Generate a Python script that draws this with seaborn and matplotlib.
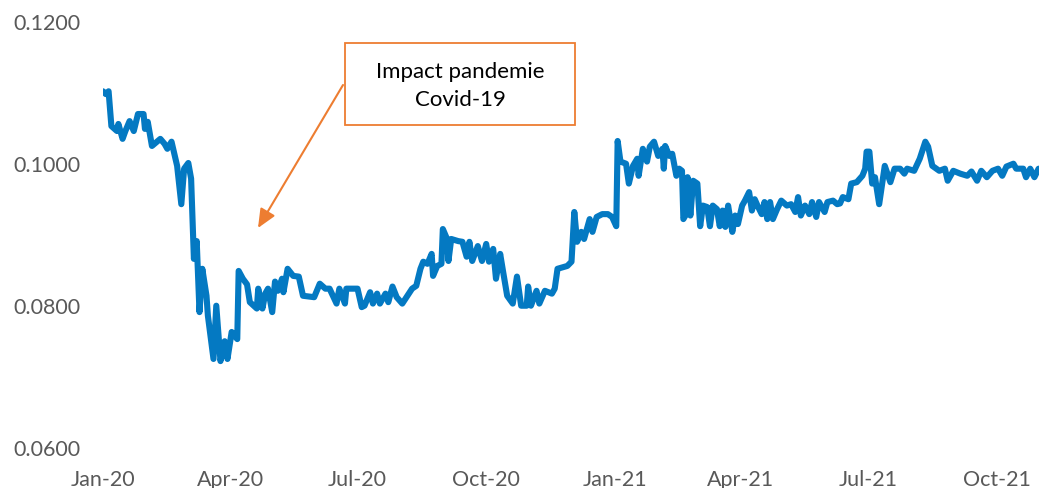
import matplotlib
matplotlib.use("Agg")
import matplotlib.pyplot as plt
import matplotlib.dates as mdates
from matplotlib.patches import Rectangle
from matplotlib.ticker import FixedLocator, FuncFormatter
import pandas as pd
import seaborn as sns

# values
dates = [
    "2020-01-01", "2020-01-03", "2020-01-05", "2020-01-07", "2020-01-11", "2020-01-12",
    "2020-01-15", "2020-01-17", "2020-01-20", "2020-01-23", "2020-01-26", "2020-01-30",
    "2020-01-31", "2020-02-02", "2020-02-05", "2020-02-11", "2020-02-14", "2020-02-16",
    "2020-02-19", "2020-02-23", "2020-02-24", "2020-02-26", "2020-02-28", "2020-03-02",
    "2020-03-04", "2020-03-06", "2020-03-08", "2020-03-10", "2020-03-12", "2020-03-15",
    "2020-03-16", "2020-03-20", "2020-03-22", "2020-03-25", "2020-03-28", "2020-03-30",
    "2020-04-02", "2020-04-06", "2020-04-07", "2020-04-10", "2020-04-13", "2020-04-15",
    "2020-04-20", "2020-04-21", "2020-04-24", "2020-04-26", "2020-04-28", "2020-05-01",
    "2020-05-03", "2020-05-05", "2020-05-08", "2020-05-09", "2020-05-12", "2020-05-16",
    "2020-05-20", "2020-05-23", "2020-05-31", "2020-06-04", "2020-06-08", "2020-06-11",
    "2020-06-16", "2020-06-18", "2020-06-22", "2020-06-23", "2020-07-01", "2020-07-04",
    "2020-07-06", "2020-07-10", "2020-07-12", "2020-07-15", "2020-07-17", "2020-07-21",
    "2020-07-23", "2020-07-26", "2020-07-29", "2020-08-02", "2020-08-09", "2020-08-12",
    "2020-08-15", "2020-08-17", "2020-08-20", "2020-08-23", "2020-08-24", "2020-08-27",
    "2020-08-30", "2020-08-31", "2020-09-03", "2020-09-04", "2020-09-06", "2020-09-11",
    "2020-09-14", "2020-09-17", "2020-09-19", "2020-09-21", "2020-09-25", "2020-09-28",
    "2020-10-01", "2020-10-03", "2020-10-06", "2020-10-08", "2020-10-11", "2020-10-13",
    "2020-10-16", "2020-10-20", "2020-10-23", "2020-10-26", "2020-10-30", "2020-10-31",
    "2020-11-02", "2020-11-06", "2020-11-08", "2020-11-12", "2020-11-17", "2020-11-19",
    "2020-11-21", "2020-11-28", "2020-12-01", "2020-12-03", "2020-12-05", "2020-12-08",
    "2020-12-10", "2020-12-14", "2020-12-16", "2020-12-19", "2020-12-23", "2020-12-27",
    "2020-12-30", "2021-01-02", "2021-01-03", "2021-01-05", "2021-01-09", "2021-01-11",
    "2021-01-14", "2021-01-17", "2021-01-18", "2021-01-21", "2021-01-24", "2021-01-26",
    "2021-01-29", "2021-02-01", "2021-02-04", "2021-02-05", "2021-02-06", "2021-02-09",
    "2021-02-11", "2021-02-14", "2021-02-16", "2021-02-18", "2021-02-19", "2021-02-21",
    "2021-02-22", "2021-02-24", "2021-02-26", "2021-03-01", "2021-03-03", "2021-03-05",
    "2021-03-08", "2021-03-10", "2021-03-12", "2021-03-15", "2021-03-17", "2021-03-19",
    "2021-03-21", "2021-03-23", "2021-03-26", "2021-03-28", "2021-03-30", "2021-04-02",
    "2021-04-04", "2021-04-07", "2021-04-09", "2021-04-11", "2021-04-13", "2021-04-16",
    "2021-04-18", "2021-04-20", "2021-04-22", "2021-04-24", "2021-04-27", "2021-04-30",
    "2021-05-04", "2021-05-07", "2021-05-10", "2021-05-12", "2021-05-14", "2021-05-17",
    "2021-05-20", "2021-05-22", "2021-05-25", "2021-05-27", "2021-05-31", "2021-06-02",
    "2021-06-06", "2021-06-09", "2021-06-11", "2021-06-13", "2021-06-17", "2021-06-19",
    "2021-06-23", "2021-06-27", "2021-06-29", "2021-06-30", "2021-07-02", "2021-07-04",
    "2021-07-06", "2021-07-09", "2021-07-13", "2021-07-17", "2021-07-20", "2021-07-24",
    "2021-07-27", "2021-07-29", "2021-08-03", "2021-08-07", "2021-08-11", "2021-08-13",
    "2021-08-16", "2021-08-21", "2021-08-25", "2021-08-27", "2021-08-31", "2021-09-05",
    "2021-09-10", "2021-09-13", "2021-09-17", "2021-09-20", "2021-09-24", "2021-09-28",
    "2021-10-02", "2021-10-05", "2021-10-08", "2021-10-13", "2021-10-15", "2021-10-20",
    "2021-10-22", "2021-10-25", "2021-10-28", "2021-10-31",
]
rates = [
    0.1101, 0.1097, 0.1101, 0.1052, 0.1045, 0.1055,
    0.1034, 0.1045, 0.1059, 0.1045, 0.1069, 0.1069,
    0.1048, 0.1058, 0.1024, 0.1034, 0.1027, 0.1020,
    0.1030, 0.0996, 0.0978, 0.0942, 0.0992, 0.1000,
    0.0978, 0.0865, 0.0890, 0.0790, 0.0851, 0.0813,
    0.0785, 0.0724, 0.0799, 0.0721, 0.0749, 0.0724,
    0.0762, 0.0752, 0.0848, 0.0837, 0.0829, 0.0804,
    0.0795, 0.0823, 0.0795, 0.0816, 0.0823, 0.0790,
    0.0833, 0.0820, 0.0837, 0.0818, 0.0851, 0.0841,
    0.0840, 0.0813, 0.0811, 0.0830, 0.0823, 0.0823,
    0.0802, 0.0823, 0.0802, 0.0823, 0.0823, 0.0797,
    0.0799, 0.0818, 0.0802, 0.0816, 0.0802, 0.0816,
    0.0804, 0.0826, 0.0811, 0.0802, 0.0823, 0.0827,
    0.0851, 0.0861, 0.0858, 0.0872, 0.0841, 0.0855,
    0.0858, 0.0907, 0.0893, 0.0862, 0.0893, 0.0890,
    0.0889, 0.0868, 0.0889, 0.0862, 0.0883, 0.0862,
    0.0886, 0.0861, 0.0879, 0.0837, 0.0872, 0.0848,
    0.0813, 0.0802, 0.0840, 0.0799, 0.0799, 0.0826,
    0.0799, 0.0820, 0.0802, 0.0820, 0.0816, 0.0823,
    0.0851, 0.0855, 0.0861, 0.0931, 0.0889, 0.0903,
    0.0893, 0.0921, 0.0903, 0.0924, 0.0928, 0.0928,
    0.0924, 0.0911, 0.1031, 0.1002, 0.0999, 0.0971,
    0.0996, 0.1006, 0.0982, 0.1020, 0.1002, 0.1023,
    0.1030, 0.1010, 0.1020, 0.0992, 0.1024, 0.1010,
    0.1013, 0.0982, 0.0992, 0.0989, 0.0921, 0.0928,
    0.0980, 0.0926, 0.0975, 0.0971, 0.0911, 0.0940,
    0.0938, 0.0911, 0.0940, 0.0935, 0.0911, 0.0933,
    0.0910, 0.0940, 0.0903, 0.0926, 0.0914, 0.0940,
    0.0947, 0.0959, 0.0933, 0.0949, 0.0940, 0.0928,
    0.0945, 0.0921, 0.0945, 0.0921, 0.0935, 0.0947,
    0.0940, 0.0942, 0.0931, 0.0952, 0.0926, 0.0940,
    0.0928, 0.0945, 0.0924, 0.0945, 0.0931, 0.0945,
    0.0947, 0.0942, 0.0943, 0.0952, 0.0949, 0.0971,
    0.0973, 0.0982, 0.0992, 0.1016, 0.1016, 0.0971,
    0.0980, 0.0942, 0.0996, 0.0973, 0.0992, 0.0992,
    0.0985, 0.0992, 0.0989, 0.1006, 0.1030, 0.1023,
    0.0996, 0.0989, 0.0992, 0.0975, 0.0989, 0.0985,
    0.0982, 0.0988, 0.0975, 0.0989, 0.0980, 0.0989,
    0.0992, 0.0982, 0.0995, 0.0999, 0.0992, 0.0992,
    0.0980, 0.0992, 0.0980, 0.0992,
]
y_ticks = [0.06, 0.08, 0.10, 0.12]
x_ticks = ["2020-01-01", "2020-04-01", "2020-07-01", "2020-10-01",
           "2021-01-01", "2021-04-01", "2021-07-01", "2021-10-01"]
note = "Impact pandemie\nCovid-19"

df = pd.DataFrame({"date": pd.to_datetime(dates), "rate": rates})

sns.set_style("white")
plt.rcParams["font.family"] = ["Lato", "DejaVu Sans"]

W, H = 1039, 489
fig = plt.figure(figsize=(W / 100, H / 100), dpi=100)
ax = fig.add_axes([103 / W, 1 - 448 / H, (1040 - 103) / W, (448 - 22) / H])

sns.lineplot(data=df, x="date", y="rate", ax=ax, color="#0479C2", linewidth=4.4,
             solid_joinstyle="round", solid_capstyle="round")

ax.set_xlim(pd.Timestamp("2020-01-01"), pd.Timestamp("2021-11-01"))
ax.set_ylim(0.06, 0.12)
ax.xaxis.set_major_locator(FixedLocator(mdates.date2num(pd.to_datetime(x_ticks))))
ax.xaxis.set_major_formatter(mdates.DateFormatter("%b-%y"))
ax.yaxis.set_major_locator(FixedLocator(y_ticks))
ax.yaxis.set_major_formatter(FuncFormatter(lambda v, _: f"{v:.4f}"))
ax.tick_params(axis="both", length=0, labelsize=15.5, labelcolor="#595959")
ax.tick_params(axis="y", pad=16.5)
ax.tick_params(axis="x", pad=16)
ax.set_xlabel("")
ax.set_ylabel("")
for s in ax.spines.values():
    s.set_visible(False)
ax.grid(False)

# callout box + arrow
fig.patches.append(Rectangle((345 / W, 1 - 126 / H), 230 / W, 82 / H,
                             transform=fig.transFigure, facecolor="white",
                             edgecolor="#ED7D31", linewidth=1.3, zorder=5))
fig.text(460 / W, 1 - 86 / H, note, ha="center", va="center", fontsize=16,
         color="black", linespacing=1.5, zorder=6)
ax.annotate("", xy=(258 / W, 1 - 229 / H), xytext=(343 / W, 1 - 86 / H),
            xycoords="figure fraction", textcoords="figure fraction",
            arrowprops=dict(arrowstyle="-|>,head_length=0.95,head_width=0.42",
                            mutation_scale=12, color="#ED7D31", lw=1.5,
                            shrinkA=0, shrinkB=0))

fig.savefig("out.png", dpi=100)
